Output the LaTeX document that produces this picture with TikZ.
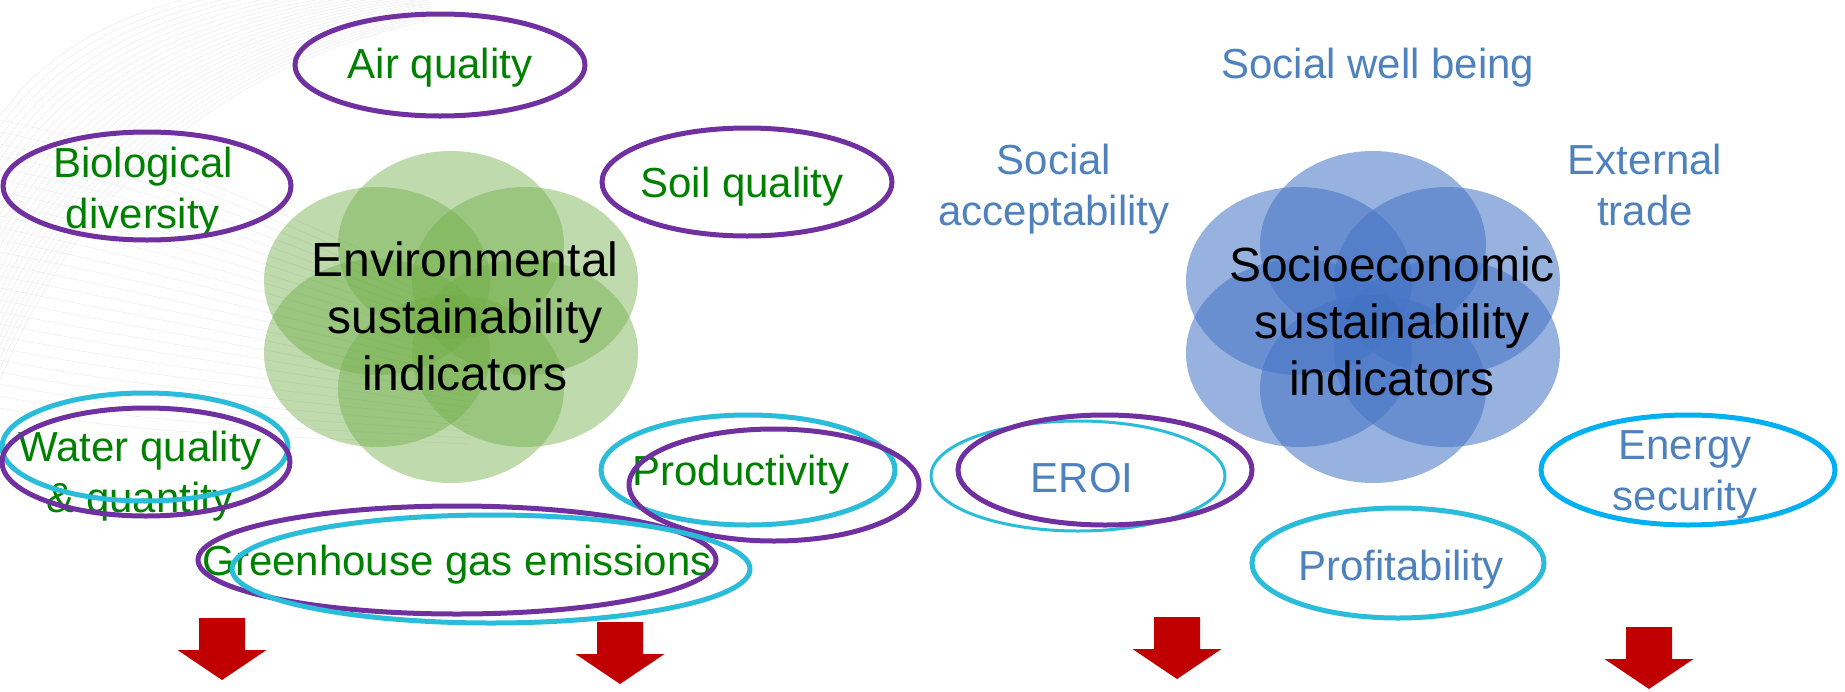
\documentclass[tikz,border=0pt]{standalone}
\usepackage{fontspec}
\setmainfont{Liberation Sans}
\definecolor{envgreen}{HTML}{70AD47}
\definecolor{socblue}{HTML}{4472C4}
\definecolor{txtgreen}{HTML}{008000}
\definecolor{txtblue}{HTML}{4F81BD}
\definecolor{ringpurple}{HTML}{7030A0}
\definecolor{ringcyan}{HTML}{2BBCD9}
\definecolor{ringblue}{HTML}{00B0F0}
\definecolor{arrowred}{HTML}{C00000}
\tikzset{
  bgline/.style={black!8,line width=0.5pt},
  envpetal/.style={fill=envgreen,fill opacity=0.45},
  socpetal/.style={fill=socblue,fill opacity=0.55},
  coretxt/.style={font=\fontsize{48}{57}\selectfont,align=center,anchor=base},
  envtxt/.style={text=txtgreen,font=\fontsize{42}{51}\selectfont,align=center,anchor=base},
  soctxt/.style={text=txtblue,font=\fontsize{42}{51}\selectfont,align=center,anchor=base},
  purplering/.style={draw=ringpurple,line width=5pt},
  cyanring/.style={draw=ringcyan,line width=5pt},
  downarr/.pic={\fill[arrowred] (-23,0) -- (23,0) -- (23,32) -- (44.5,32) -- (0,62) -- (-44.5,32) -- (-23,32) -- cycle;}
}
\begin{document}
\begin{tikzpicture}[x=1pt,y=-1pt]
\useasboundingbox (0,0) rectangle (1845,691);
\foreach \i in {0,...,24}
  \draw[bgline] (0,{120+\i*12}) .. controls (150,{150+\i*12}) and (300,{220+\i*9}) .. (470,{300+\i*6});
\foreach \i in {0,...,24}
  \draw[bgline] (0,{380-\i*11}) .. controls (70,{210-\i*8}) and (200,{70-\i*4}) .. (430,{20-\i*2});
\begin{scope}[shift={(451,317)}]
\foreach \dx/\dy in {0/-72,-74/-36,74/-36,-74/36,74/36,0/72}
  \fill[envpetal] (\dx,\dy) ellipse [x radius=113pt,y radius=94pt];
\end{scope}
\begin{scope}[shift={(1373,317)}]
\foreach \dx/\dy in {0/-72,-74/-36,74/-36,-74/36,74/36,0/72}
  \fill[socpetal] (\dx,\dy) ellipse [x radius=113pt,y radius=94pt];
\end{scope}
\node[coretxt] (env) at (465,390) {Environmental\\sustainability\\indicators};
\node[coretxt] (soc) at (1392,395) {Socioeconomic\\sustainability\\indicators};
\node[envtxt] (air) at (440,78) {Air quality};
\node[envtxt] (biodiv) at (143,228) {Biological\\diversity};
\node[envtxt] (soil) at (742,197) {Soil quality};
\node[envtxt] (water) at (140,512) {Water quality\\\& quantity};
\node[envtxt] (prod) at (741,485) {Productivity};
\node[envtxt] (ghg) at (457,575) {Greenhouse gas emissions};
\node[soctxt] (wellbeing) at (1378,78) {Social well being};
\node[soctxt] (accept) at (1054,225) {Social\\acceptability};
\node[soctxt] (trade) at (1645,225) {External\\trade};
\node[soctxt] (eroi) at (1082,492) {EROI};
\node[soctxt] (energy) at (1685,510) {Energy\\security};
\node[soctxt] (profit) at (1401,580) {Profitability};
\draw[purplering] (440,65) ellipse [x radius=145pt,y radius=51pt];
\draw[purplering] (147,186) ellipse [x radius=144pt,y radius=54pt];
\draw[purplering] (747,182) ellipse [x radius=145pt,y radius=54pt];
\draw[cyanring] (145,447) ellipse [x radius=143pt,y radius=54pt];
\draw[purplering] (146,462) ellipse [x radius=144pt,y radius=54pt];
\draw[cyanring] (748,470) ellipse [x radius=147pt,y radius=55pt];
\draw[purplering] (774,485) ellipse [x radius=145pt,y radius=56pt];
\draw[purplering] (457,560) ellipse [x radius=259pt,y radius=54pt];
\draw[cyanring] (491,569) ellipse [x radius=259pt,y radius=54pt];
\draw[cyanring,line width=3pt] (1078,476) ellipse [x radius=147pt,y radius=55pt];
\draw[purplering] (1105,470) ellipse [x radius=147pt,y radius=55pt];
\draw[draw=ringblue,line width=5pt] (1688,470) ellipse [x radius=147pt,y radius=55pt];
\draw[cyanring] (1398,563) ellipse [x radius=146pt,y radius=55pt];
\pic (arrA) at (222,618) {downarr};
\pic (arrB) at (620,622) {downarr};
\pic (arrC) at (1177,617) {downarr};
\pic (arrD) at (1649,627) {downarr};
\end{tikzpicture}
\end{document}
